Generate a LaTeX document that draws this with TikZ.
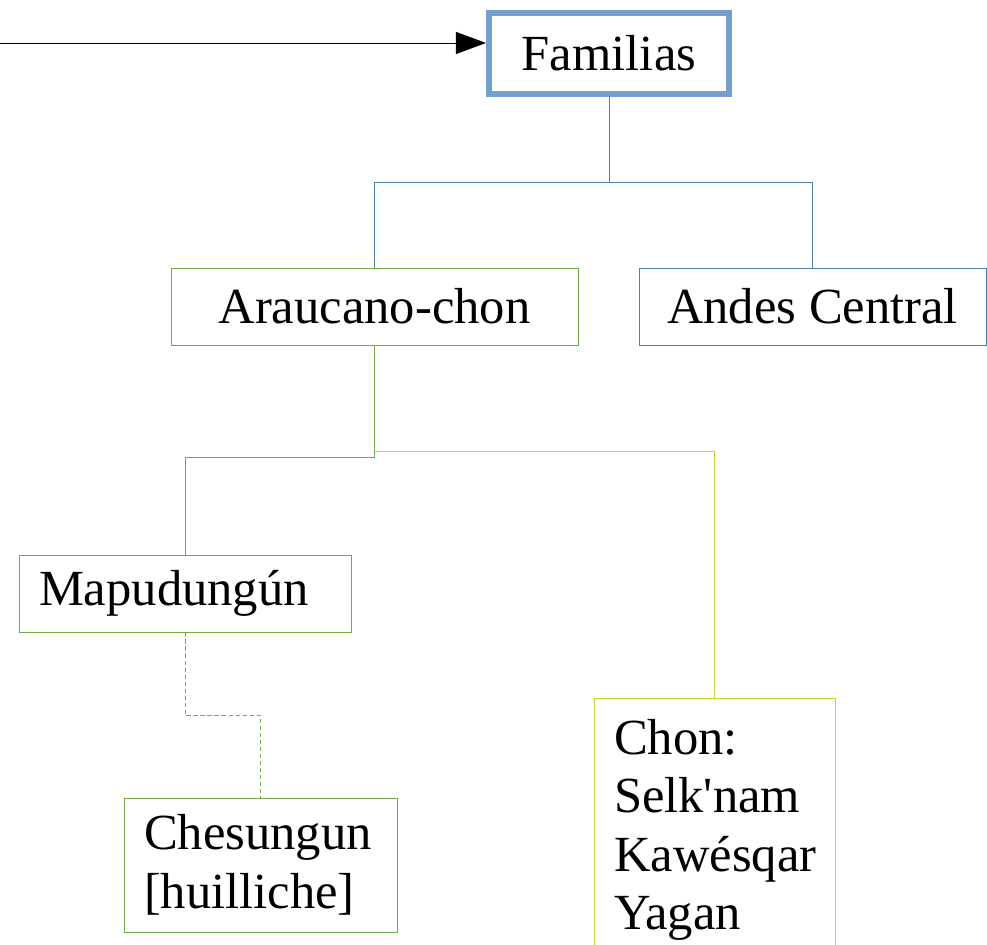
\documentclass[tikz,border=0pt]{standalone}
\usepackage{fontspec}
\setmainfont{Liberation Serif}
\usetikzlibrary{arrows.meta,positioning}

\definecolor{famblue}{RGB}{114,159,207}
\definecolor{linkblue}{RGB}{74,126,187}
\definecolor{leafgreen}{RGB}{112,173,71}
\definecolor{chongreen}{RGB}{196,214,40}

\begin{document}
\begin{tikzpicture} [semithick,>={Triangle[length=0.75cm,width=0.55cm]},
			every node/.style={font=\fontsize{36}{41.5}\selectfont},
			lang box/.style={draw,rectangle,minimum height=1.925cm},
			family box/.style={lang box,famblue,line width=4.3pt,minimum width=6cm,minimum height=2.025cm,text=black},
			blue box/.style={lang box,linkblue,text=black},
			green box/.style={lang box,leafgreen,text=black},
			chon box/.style={lang box,chongreen,text=black},
			left text/.style={align=left,inner xsep=0.5cm},
			blue link/.style={linkblue},
			green link/.style={leafgreen},
			chon link/.style={chongreen},
			dialect link/.style={leafgreen,dash pattern=on 3pt off 2pt}
			]
		\useasboundingbox (0,0) rectangle (24.675,23.625);
		%\draw[step=1cm, color=gray] (0,0) grid (24,23);
		\node [family box, xshift=-0.2cm] (fam) at (15.425,22.29) {Familias};
		\node [green box, minimum width=10.175cm] (arau) at (9.3625,15.9625) {Araucano-chon};
		\node [blue box, minimum width=8.675cm] (andes) at (20.3125,15.9625) {Andes Central};
		\node [green box, left text, text width=7.3cm] (mapu) at (4.625,8.7875) {Mapudungún};
		\node [green box, left text, text width=5.825cm, minimum height=3.35cm] (ches) at (6.5125,2.0) {Chesungun\\{}[huilliche]};
		\node [chon box, left text, text width=5.025cm, anchor=north, inner ysep=0.52cm] (chon) at (17.8625,6.175) {Chon:\\Selk\textquotesingle nam\\Kawésqar\\Yagan};

		\coordinate (entry) at (0,22.55);
		\draw [->] (entry) -- (entry -| fam.west);

		\draw [blue link] (fam.south) -- +(0,-2.15) -| (arau.north);
		\draw [blue link] (fam.south) -- +(0,-2.15) -| (andes.north);
		\draw [chon link] (arau.south) -- +(0,-2.65) -| (chon.north);
		\draw [green link] (arau.south) -- +(0,-2.8) -| (mapu.north);
		\draw [dialect link] (mapu.south) -- +(0,-2.075) -| (ches.north);
		\end{tikzpicture}
\end{document}
